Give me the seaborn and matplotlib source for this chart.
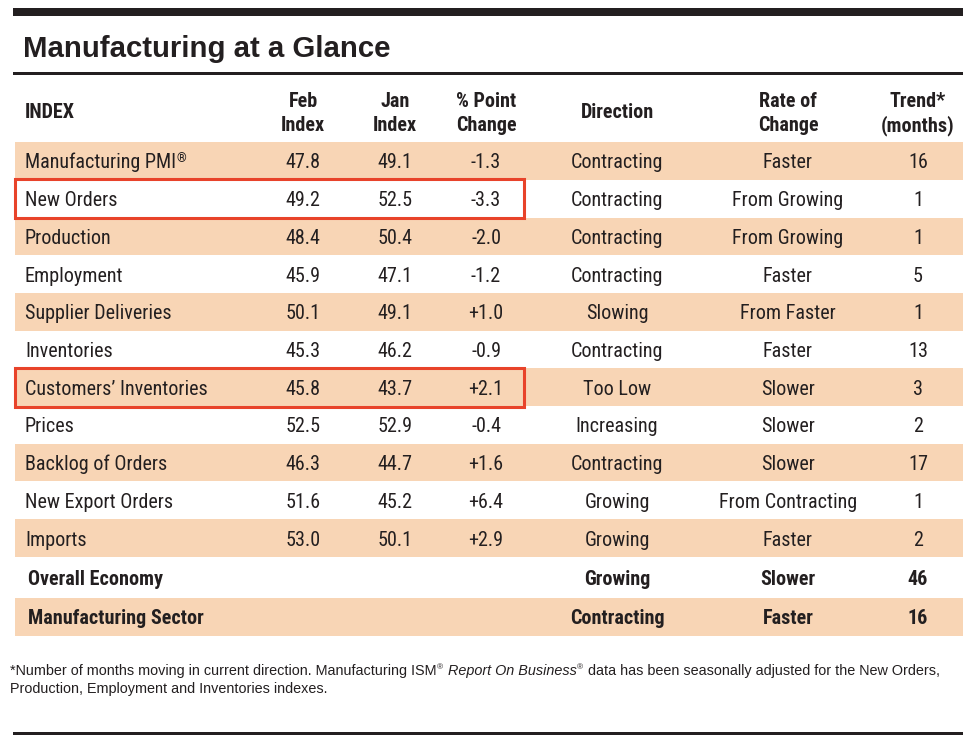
import matplotlib
matplotlib.use("Agg")
import matplotlib.pyplot as plt
import seaborn as sns
from matplotlib import font_manager as fm
from matplotlib.patches import Rectangle
import pandas as pd

# ---------------- data ----------------
index_names = ["Manufacturing PMI", "New Orders", "Production", "Employment",
               "Supplier Deliveries", "Inventories", "Customers\u2019 Inventories",
               "Prices", "Backlog of Orders", "New Export Orders", "Imports"]
feb_index = [47.8, 49.2, 48.4, 45.9, 50.1, 45.3, 45.8, 52.5, 46.3, 51.6, 53.0]
jan_index = [49.1, 52.5, 50.4, 47.1, 49.1, 46.2, 43.7, 52.9, 44.7, 45.2, 50.1]
point_change = [-1.3, -3.3, -2.0, -1.2, 1.0, -0.9, 2.1, -0.4, 1.6, 6.4, 2.9]
direction = ["Contracting", "Contracting", "Contracting", "Contracting", "Slowing",
             "Contracting", "Too Low", "Increasing", "Contracting", "Growing", "Growing"]
rate_of_change = ["Faster", "From Growing", "From Growing", "Faster", "From Faster",
                  "Faster", "Slower", "Slower", "Slower", "From Contracting", "Faster"]
trend_months = [16, 1, 1, 5, 1, 13, 3, 2, 17, 1, 2]

summary_names = ["Overall Economy", "Manufacturing Sector"]
summary_direction = ["Growing", "Contracting"]
summary_rate = ["Slower", "Faster"]
summary_trend = [46, 16]

highlighted = ["New Orders", "Customers\u2019 Inventories"]
registered = ["Manufacturing PMI"]

header_labels = [["INDEX"], ["Feb", "Index"], ["Jan", "Index"], ["% Point", "Change"],
                 ["Direction"], ["Rate of", "Change"], ["Trend*", "(months)"]]

title = "Manufacturing at a Glance"
footnote_1a = "*Number of months moving in current direction. Manufacturing ISM"
footnote_1b = "Report On Business"
footnote_1c = "data has been seasonally adjusted for the New Orders,"
footnote_2 = "Production, Employment and Inventories indexes."

df = pd.DataFrame({"index": index_names, "feb": feb_index, "jan": jan_index,
                   "chg": point_change, "dir": direction, "rate": rate_of_change,
                   "trend": trend_months})

# ---------------- style ----------------
sns.set_theme(style="white")
names = {f.name for f in fm.fontManager.ttflist}
if "Liberation Sans Narrow" in names:
    COND, STRETCH = "Liberation Sans Narrow", "normal"
elif "Roboto Condensed" in names:
    COND, STRETCH = "Roboto Condensed", "normal"
else:
    COND, STRETCH = "DejaVu Sans", "condensed"
REG = "Liberation Sans" if "Liberation Sans" in names else "DejaVu Sans"
plt.rcParams["font.family"] = [COND, "DejaVu Sans"]

INK = "#231F20"
PEACH = "#F8D5B5"
RED = "#E8432A"

W, H = 976, 740
fig = plt.figure(figsize=(W / 100, H / 100), dpi=100)
ax = fig.add_axes([0, 0, 1, 1])
ax.set_xlim(0, W)
ax.set_ylim(H, 0)
ax.axis("off")
fig.canvas.draw()
renderer = fig.canvas.get_renderer()

# layout
left, right = 13, 963
band_left = 15
row0, row_h = 161, 37.7
summary_h = 39.5
col_x = {"feb": 303, "jan": 395, "chg": 486, "dir": 617, "rate": 788, "trend": 918}
header_x = [25, 303, 395, 486, 617, 788, 918]
BODY = 14.5
HEAD = 14.5

n = len(index_names)
centers = [row0 + row_h * i for i in range(n)]
centers += [centers[-1] + summary_h * (j + 1) for j in range(len(summary_names))]

# rules
ax.add_patch(Rectangle((left, 8), right - left, 8, color=INK, lw=0))
ax.add_patch(Rectangle((left, 72), right - left, 2.5, color=INK, lw=0))
ax.add_patch(Rectangle((left, 731.5), right - left, 3, color=INK, lw=0))

# shaded bands
shade_rows = [c for i, c in enumerate(centers) if i % 2 == 0]
ax.barh(shade_rows, right - band_left, height=row_h, left=band_left,
        color=PEACH, linewidth=0, zorder=0)

# title
ax.text(23, 57, title, family=[REG, "DejaVu Sans"], weight="bold", fontsize=21.2,
        color=INK, va="baseline", ha="left")

# header
for lines, x in zip(header_labels, header_x):
    ha = "left" if x == header_x[0] else "center"
    if len(lines) == 1:
        ys = [118.5]
    else:
        ys = [107, 131]
    for s, y in zip(lines, ys):
        ax.text(x, y, s, fontsize=HEAD, weight="bold", color=INK, ha=ha,
                va="baseline", fontstretch=STRETCH)

def cell(x, yc, s, ha="center", bold=False):
    return ax.text(x, yc + 7.5, s, fontsize=BODY, color=INK, ha=ha, va="baseline",
                   weight="bold" if bold else "normal", fontstretch=STRETCH)

for i, r in df.iterrows():
    yc = centers[i]
    t = cell(25, yc, r["index"], ha="left")
    if r["index"] in registered:
        bb = t.get_window_extent(renderer)
        ax.text(25 + bb.width + 0.5, yc + 1.5, "\u00ae", fontsize=BODY * 0.62,
                color=INK, ha="left", va="baseline", fontstretch=STRETCH)
    cell(col_x["feb"], yc, f"{r['feb']:.1f}")
    cell(col_x["jan"], yc, f"{r['jan']:.1f}")
    cell(col_x["chg"], yc, f"{r['chg']:+.1f}")
    cell(col_x["dir"], yc, r["dir"])
    cell(col_x["rate"], yc, r["rate"])
    cell(col_x["trend"], yc, f"{r['trend']}")
    if r["index"] in highlighted:
        ax.add_patch(Rectangle((14.5, yc - 19.5), 524 - 14.5, 39, fill=False,
                               edgecolor=RED, lw=2.2, zorder=5))

for j, name in enumerate(summary_names):
    yc = centers[n + j]
    cell(28, yc, name, ha="left", bold=True)
    cell(col_x["dir"], yc, summary_direction[j], bold=True)
    cell(col_x["rate"], yc, summary_rate[j], bold=True)
    cell(col_x["trend"], yc, f"{summary_trend[j]}", bold=True)

# footnote (runs with superscripts and italics), fitted to reference width
def draw_runs(x0, y, runs, size):
    arts = []
    x = x0
    px = size * 100 / 72
    for s, style, gap in runs:
        x += gap * px
        kw = dict(family=[REG, "DejaVu Sans"], color=INK, ha="left", va="baseline")
        if style == "sup":
            t = ax.text(x + 0.5, y - px * 0.38, s, fontsize=size * 0.58, **kw)
        elif style == "it":
            t = ax.text(x, y, s, fontsize=size, style="italic", **kw)
        else:
            t = ax.text(x, y, s, fontsize=size, **kw)
        arts.append(t)
        x += t.get_window_extent(renderer).width + (1 if style == "sup" else 0)
    return arts, x - x0

runs1 = [(footnote_1a, "n", 0), ("\u00ae", "sup", 0), (footnote_1b, "it", 0.28),
         ("\u00ae", "sup", 0), (footnote_1c, "n", 0.28)]
arts, w = draw_runs(10, 675, runs1, 10)
for a in arts:
    a.remove()
fsize = 10 * 930 / w
draw_runs(10, 675, runs1, fsize)
draw_runs(10, 693, [(footnote_2, "n", 0)], fsize)

fig.savefig("out.png", dpi=100)
